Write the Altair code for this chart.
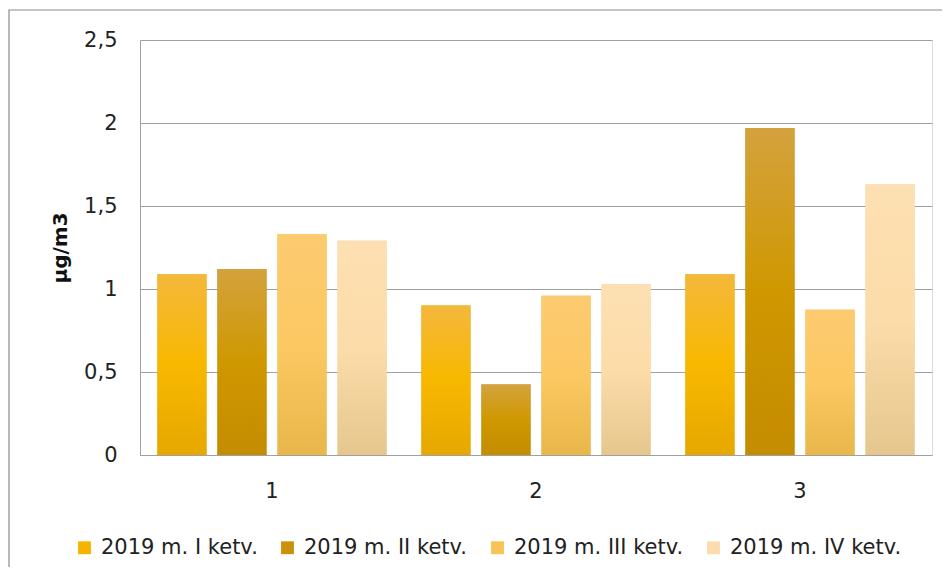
import altair as alt
import pandas as pd

groups = ["1", "2", "3"]
series = ["2019 m. I ketv.", "2019 m. II ketv.", "2019 m. III ketv.", "2019 m. IV ketv."]
s1 = [1.09, 0.90, 1.09]
s2 = [1.12, 0.425, 1.97]
s3 = [1.33, 0.96, 0.875]
s4 = [1.29, 1.03, 1.63]
values = [s1, s2, s3, s4]

solid = ["#f6b400", "#c9920a", "#f7c455", "#fbdcac"]
grad_stops = [
    ["#f4b83c", "#f8b800", "#e6a700"],
    ["#d4a23e", "#cf9800", "#c48c00"],
    ["#fccb70", "#fcc862", "#e8b74a"],
    ["#fde0b2", "#fcdca8", "#e5c78e"],
]

rows = []
for s, vals in zip(series, values):
    for g, v in zip(groups, vals):
        rows.append({"group": g, "series": s, "value": v})
df = pd.DataFrame(rows)

FONT = "DejaVu Sans"

x_enc = alt.X("group:N", sort=groups,
              scale=alt.Scale(paddingInner=0, paddingOuter=0),
              axis=alt.Axis(title=None, labelAngle=0, ticks=False, tickSize=0,
                            labelPadding=25, labelFontSize=21, labelFont=FONT,
                            labelColor="#222222", domainColor="#a0a0a0",
                            grid=False))
xo_enc = alt.XOffset("series:N", sort=series,
                     scale=alt.Scale(domain=series, paddingInner=0.183, paddingOuter=0.29))
y_enc = alt.Y("value:Q",
              scale=alt.Scale(domain=[0, 2.5], nice=False),
              axis=alt.Axis(title="µg/m3", values=[0, 0.5, 1, 1.5, 2, 2.5],
                            labelExpr="replace(toString(datum.value), '.', ',')",
                            ticks=False, tickSize=0, labelPadding=23,
                            labelFontSize=21, labelFont=FONT, labelColor="#222222",
                            titleFontSize=20, titleFont=FONT, titleFontWeight="bold",
                            titleColor="#111111", titlePadding=13,
                            gridColor="#a0a0a0", domainColor="#a0a0a0"))

base = alt.Chart(df)

shadow = base.mark_bar(color="#000000", opacity=0.13, xOffset=3).encode(
    x=x_enc, xOffset=xo_enc, y=y_enc)

legend_bars = base.mark_bar().encode(
    x=x_enc, xOffset=xo_enc, y=y_enc,
    color=alt.Color("series:N", sort=series,
                    scale=alt.Scale(domain=series, range=solid),
                    legend=alt.Legend(title=None, orient="none", direction="horizontal",
                                      legendX=-66, legendY=497,
                                      symbolType="square", symbolSize=165,
                                      symbolStrokeWidth=0, labelLimit=400,
                                      labelFontSize=21, labelFont=FONT,
                                      labelColor="#222222", columnPadding=19,
                                      labelOffset=6)))

layers = [shadow, legend_bars]
for s, stops in zip(series, grad_stops):
    grad = alt.LinearGradient(
        gradient="linear", x1=0, y1=0, x2=0, y2=1,
        stops=[alt.GradientStop(color=stops[0], offset=0),
               alt.GradientStop(color=stops[1], offset=0.5),
               alt.GradientStop(color=stops[2], offset=1)])
    layers.append(
        base.transform_filter(alt.datum.series == s).mark_bar(color=grad).encode(
            x=x_enc, xOffset=xo_enc, y=y_enc))

frame = alt.Chart(pd.DataFrame({"a": [0]})).mark_rect(
    fill=None, stroke="#8a8a8a", strokeWidth=1.2).encode(
    x=alt.value(-131), x2=alt.value(1000), y=alt.value(-30), y2=alt.value(800))

chart = alt.layer(*layers, frame).properties(
    width=792, height=415,
    padding={"left": 132, "top": 32, "right": 10, "bottom": 112},
    autosize=alt.AutoSizeParams(type="none"),
).configure_view(stroke=None).configure(background="white")

chart.save("out.html", embed_options={"renderer": "svg", "actions": False})
